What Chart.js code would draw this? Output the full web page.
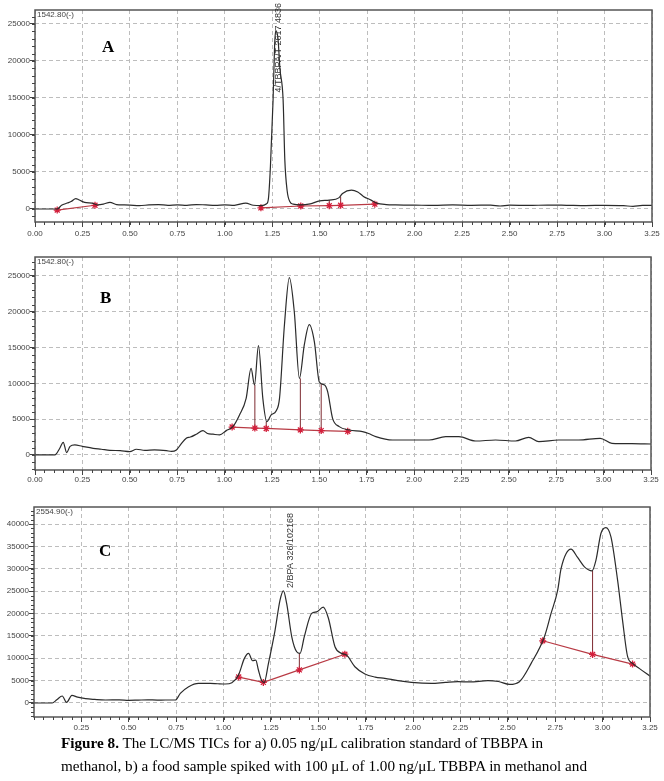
<!DOCTYPE html>
<html>
<head>
<meta charset="utf-8">
<script src="https://cdn.jsdelivr.net/npm/chart.js@4.4.1/dist/chart.umd.min.js"></script>
<style>
  html, body { margin: 0; padding: 0; background: #fff; }
  body { width: 664px; height: 781px; position: relative; overflow: hidden; }
  canvas { position: absolute; left: 0; }
  #cA { top: 0; }
  #cB { top: 245px; }
  #cC { top: 492px; }
  #cap {
    position: absolute; left: 61px; top: 731px;
    font: 15.2px "Liberation Serif", "Times New Roman", serif;
    line-height: 23px; color: #000; white-space: nowrap;
  }
</style>
</head>
<body>
<canvas id="cA" width="664" height="245"></canvas>
<canvas id="cB" width="664" height="247"></canvas>
<canvas id="cC" width="664" height="245"></canvas>
<div id="cap"><b>Figure 8.</b> The LC/MS TICs for a) 0.05 ng/μL calibration standard of TBBPA in<br>methanol, b) a food sample spiked with 100 μL of 1.00 ng/μL TBBPA in methanol and</div>

<script>
// retention time (min) and intensity

// A - calibration standard
const timeA = [0, 0.117, 0.14, 0.17, 0.19, 0.215, 0.23, 0.25, 0.27, 0.3, 0.33, 0.36, 0.395, 0.43, 0.47,
  0.5, 0.55, 0.6, 0.65, 0.7, 0.75, 0.8, 0.85, 0.9, 0.95, 1.0, 1.05, 1.11, 1.15, 1.19,
  1.22, 1.23, 1.24, 1.254, 1.262, 1.268, 1.28, 1.29, 1.307, 1.316, 1.328, 1.342, 1.36, 1.4, 1.45,
  1.5, 1.55, 1.6, 1.62, 1.667, 1.7, 1.73, 1.77, 1.8, 1.85, 1.9, 2.0, 2.1, 2.2, 2.3,
  2.4, 2.45, 2.5, 2.6, 2.7, 2.8, 2.9, 3.0, 3.1, 3.15, 3.2, 3.25];
const ticA = [0, 0, 500, 800, 1000, 1400, 1250, 1000, 850, 800, 550, 650, 900, 600, 550,
  520, 450, 550, 600, 500, 550, 500, 600, 550, 500, 550, 500, 800, 500, 450,
  700, 1500, 5700, 14700, 22000, 24100, 23000, 19000, 14700, 6600, 2500, 1000, 650, 550, 700,
  1100, 1200, 1500, 2100, 2550, 2300, 1700, 1200, 800, 600, 550, 520, 480, 550, 500,
  520, 400, 520, 480, 530, 500, 460, 500, 450, 350, 480, 480];
const baseA1_t = [0.117, 0.316];
const baseA1_v = [-150, 500];
const baseA2_t = [1.19, 1.40, 1.55, 1.61, 1.79];
const baseA2_v = [150, 400, 450, 500, 650];
const dropA_t = [1.55, 1.61];
const dropA_lo = [450, 500];
const dropA_hi = [1200, 1700];

// B - spiked food sample
const timeB = [0, 0.105, 0.13, 0.149, 0.167, 0.185, 0.21, 0.25, 0.307, 0.35, 0.395, 0.45, 0.5, 0.535, 0.58,
  0.63, 0.693, 0.72, 0.746, 0.77, 0.798, 0.82, 0.851, 0.886, 0.91, 0.939, 0.974, 1.009, 1.044, 1.079,
  1.114, 1.14, 1.158, 1.179, 1.202, 1.223, 1.246, 1.272, 1.29, 1.316, 1.342, 1.368, 1.395, 1.421, 1.447,
  1.474, 1.5, 1.526, 1.544, 1.57, 1.605, 1.658, 1.728, 1.76, 1.798, 1.886, 1.974, 2.079, 2.167, 2.237,
  2.325, 2.43, 2.535, 2.605, 2.658, 2.763, 2.868, 2.982, 3.044, 3.149, 3.25];
const ticB = [0, 0, 900, 1770, 330, 1200, 1400, 1200, 930, 800, 650, 600, 470, 800, 650,
  700, 600, 500, 700, 1500, 2330, 2500, 2900, 3400, 3000, 2900, 2800, 3400, 3960, 5590,
  7910, 12100, 9780, 15270, 7910, 4650, 5590, 6150, 7910, 18150, 24760, 20000, 10700, 15400, 18200,
  15800, 10200, 9800, 8840, 5120, 3960, 3490, 3260, 3000, 2560, 2090, 2090, 2090, 2560, 2560,
  1950, 2090, 1950, 2460, 1860, 2090, 2090, 2330, 1630, 1580, 1530];
const baseB_t = [1.04, 1.16, 1.22, 1.40, 1.51, 1.65];
const baseB_v = [3900, 3750, 3700, 3500, 3400, 3300];
const dropB_t = [1.16, 1.22, 1.40, 1.51];
const dropB_lo = [3750, 3700, 3500, 3400];
const dropB_hi = [9800, 4650, 10700, 9900];

// C - food sample
const timeC = [0, 0.096, 0.12, 0.149, 0.172, 0.2, 0.23, 0.272, 0.32, 0.377, 0.45, 0.5, 0.55, 0.6, 0.65,
  0.693, 0.746, 0.772, 0.816, 0.868, 0.93, 0.97, 1.009, 1.044, 1.079, 1.11, 1.132, 1.153, 1.17, 1.184,
  1.2, 1.214, 1.237, 1.272, 1.298, 1.316, 1.333, 1.36, 1.386, 1.404, 1.426, 1.465, 1.491, 1.526, 1.553,
  1.588, 1.623, 1.649, 1.693, 1.746, 1.8, 1.851, 1.92, 1.991, 2.096, 2.17, 2.237, 2.3, 2.395, 2.45,
  2.509, 2.561, 2.623, 2.693, 2.728, 2.763, 2.781, 2.833, 2.868, 2.904, 2.944, 2.965, 2.991, 3.017, 3.044,
  3.079, 3.105, 3.132, 3.158, 3.193, 3.25];
const ticC = [0, 0, 700, 1560, 150, 1700, 1300, 970, 800, 670, 700, 600, 650, 700, 650,
  670, 670, 2160, 3650, 4390, 4390, 4300, 4240, 4540, 6250, 9970, 11090, 9440, 9600, 7370,
  5130, 4540, 8860, 16300, 23000, 25070, 22250, 14800, 11450, 11090, 14800, 20020, 20350, 21430, 19000,
  12570, 11090, 10710, 8100, 6470, 5800, 5510, 5000, 4620, 4390, 4600, 4760, 4700, 4990, 4800,
  4160, 4760, 8860, 14800, 20020, 25220, 30060, 34370, 32520, 30430, 29540, 31920, 37880, 39210, 37130,
  27450, 18530, 10340, 8860, 7740, 6000];
const baseC1_t = [1.08, 1.21, 1.40, 1.64];
const baseC1_v = [5800, 4600, 7400, 10900];
const baseC2_t = [2.684, 2.947, 3.158];
const baseC2_v = [13900, 10860, 8700];
const dropC_t = [1.40, 2.947];
const dropC_lo = [7400, 10860];
const dropC_hi = [11100, 29500];

// axis ticks
const timeTicks = [0, 0.25, 0.5, 0.75, 1, 1.25, 1.5, 1.75, 2, 2.25, 2.5, 2.75, 3, 3.25];
const timeTicksC = [0.25, 0.5, 0.75, 1, 1.25, 1.5, 1.75, 2, 2.25, 2.5, 2.75, 3, 3.25];
const ticTicksAB = [0, 5000, 10000, 15000, 20000, 25000];
const ticTicksC = [0, 5000, 10000, 15000, 20000, 25000, 30000, 35000, 40000];

const pts = (t, v) => t.map((x, i) => ({ x: x, y: v[i] }));
const drops = (t, lo, hi) => {
  const out = [];
  t.forEach((x, i) => { out.push({ x: x, y: lo[i] }, { x: x, y: hi[i] }, { x: x, y: null }); });
  return out;
};

const traceDs = (data) => ({
  data: data, borderColor: '#2b2b2b', borderWidth: 1.2, pointRadius: 0,
  cubicInterpolationMode: 'monotone', order: 1
});
const baseDs = (data) => ({
  data: data, borderColor: '#b83a44', borderWidth: 1.2, pointRadius: 3.5,
  pointStyle: 'star', pointBorderColor: '#d3203c', pointBorderWidth: 1.3,
  pointBackgroundColor: '#d3203c', order: 2
});
const dropDs = (data) => ({
  data: data, borderColor: '#7d2a30', borderWidth: 1, pointRadius: 0, spanGaps: false, order: 3
});

// frame, minor ticks, range text, panel letter, peak label
const extras = {
  id: 'extras',
  afterDraw(chart, args, o) {
    const { ctx, chartArea: a, scales: { x, y } } = chart;
    ctx.save();
    ctx.setLineDash([]);
    ctx.strokeStyle = '#555';
    ctx.lineWidth = 1.5;
    ctx.strokeRect(a.left, a.top, a.right - a.left, a.bottom - a.top);

    ctx.strokeStyle = '#444';
    ctx.lineWidth = 1;
    ctx.beginPath();
    for (let i = 0; i * 0.05 <= x.max + 1e-9; i++) {
      const px = Math.round(x.getPixelForValue(i * 0.05)) + 0.5;
      ctx.moveTo(px, a.bottom);
      ctx.lineTo(px, a.bottom + 3);
    }
    for (let v = Math.ceil(y.min / 1000) * 1000; v <= y.max; v += 1000) {
      const py = Math.round(y.getPixelForValue(v)) + 0.5;
      ctx.moveTo(a.left - 3, py);
      ctx.lineTo(a.left, py);
    }
    ctx.stroke();

    ctx.fillStyle = '#444';
    ctx.font = '8px "Liberation Sans", Arial, sans-serif';
    ctx.textBaseline = 'top';
    ctx.fillText(o.range, a.left + 2, a.top + 1);

    ctx.fillStyle = '#000';
    ctx.font = 'bold 17px "Liberation Serif", "Times New Roman", serif';
    ctx.textBaseline = 'alphabetic';
    ctx.fillText(o.letter, o.letterX, o.letterY);

    if (o.note) {
      ctx.translate(x.getPixelForValue(o.note.t), o.note.top);
      ctx.rotate(-Math.PI / 2);
      ctx.textAlign = 'right';
      ctx.textBaseline = 'middle';
      ctx.font = '9px "Liberation Sans", Arial, sans-serif';
      ctx.fillStyle = '#333';
      ctx.fillText(o.note.text, 0, 0);
    }
    ctx.restore();
  }
};

function makeChart(id, p) {
  return new Chart(document.getElementById(id), {
    type: 'line',
    data: { datasets: p.datasets },
    options: {
      responsive: false,
      animation: false,
      devicePixelRatio: 1,
      layout: { padding: { top: p.padTop, right: p.padRight, left: 0, bottom: 0 } },
      plugins: {
        legend: { display: false },
        tooltip: { enabled: false },
        extras: p.extras
      },
      scales: {
        x: {
          type: 'linear', min: 0, max: 3.25,
          afterBuildTicks: s => { s.ticks = p.xTicks.map(v => ({ value: v })); },
          afterFit: s => { s.height = p.xHeight; },
          grid: { color: '#bdbdbd', lineWidth: 1, tickLength: 5, tickColor: '#444', tickBorderDash: [] },
          border: { display: false, dash: [4, 3] },
          ticks: {
            padding: p.xPad, color: '#444', maxRotation: 0, autoSkip: false,
            font: { family: '"Liberation Sans", Arial, sans-serif', size: 8 },
            callback: v => Number(v).toFixed(2)
          }
        },
        y: {
          min: p.yMin, max: p.yMax,
          afterBuildTicks: s => { s.ticks = p.yTicks.map(v => ({ value: v })); },
          afterFit: s => { s.width = p.yWidth; },
          grid: { color: '#bdbdbd', lineWidth: 1, tickLength: 5, tickColor: '#444', tickBorderDash: [] },
          border: { display: false, dash: [4, 3] },
          ticks: {
            padding: 0, color: '#444', autoSkip: false,
            font: { family: '"Liberation Sans", Arial, sans-serif', size: 8 },
            callback: v => String(v)
          }
        }
      }
    },
    plugins: [extras]
  });
}

makeChart('cA', {
  datasets: [
    traceDs(pts(timeA, ticA)),
    baseDs(pts(baseA1_t, baseA1_v)),
    baseDs(pts(baseA2_t, baseA2_v)),
    dropDs(drops(dropA_t, dropA_lo, dropA_hi))
  ],
  padTop: 10, padRight: 12, xHeight: 23, xPad: 2, yWidth: 35,
  yMin: -1760, yMax: 26890, xTicks: timeTicks, yTicks: ticTicksAB,
  extras: { range: '1542.80(-)', letter: 'A', letterX: 102, letterY: 52,
    note: { t: 1.285, top: 3, text: '4/TBBPA/T 2617 4836' } }
});

makeChart('cB', {
  datasets: [
    traceDs(pts(timeB, ticB)),
    baseDs(pts(baseB_t, baseB_v)),
    dropDs(drops(dropB_t, dropB_lo, dropB_hi))
  ],
  padTop: 12, padRight: 13, xHeight: 22, xPad: 0, yWidth: 35,
  yMin: -2100, yMax: 27650, xTicks: timeTicks, yTicks: ticTicksAB,
  extras: { range: '1542.80(-)', letter: 'B', letterX: 100, letterY: 58 }
});

makeChart('cC', {
  datasets: [
    traceDs(pts(timeC, ticC)),
    baseDs(pts(baseC1_t, baseC1_v)),
    baseDs(pts(baseC2_t, baseC2_v)),
    dropDs(drops(dropC_t, dropC_lo, dropC_hi))
  ],
  padTop: 15, padRight: 14, xHeight: 20, xPad: 1, yWidth: 34,
  yMin: -3130, yMax: 43800, xTicks: timeTicksC, yTicks: ticTicksC,
  extras: { range: '2554.90(-)', letter: 'C', letterX: 99, letterY: 64,
    note: { t: 1.351, top: 21, text: '2/BPA 326/102168' } }
});
</script>
</body>
</html>
